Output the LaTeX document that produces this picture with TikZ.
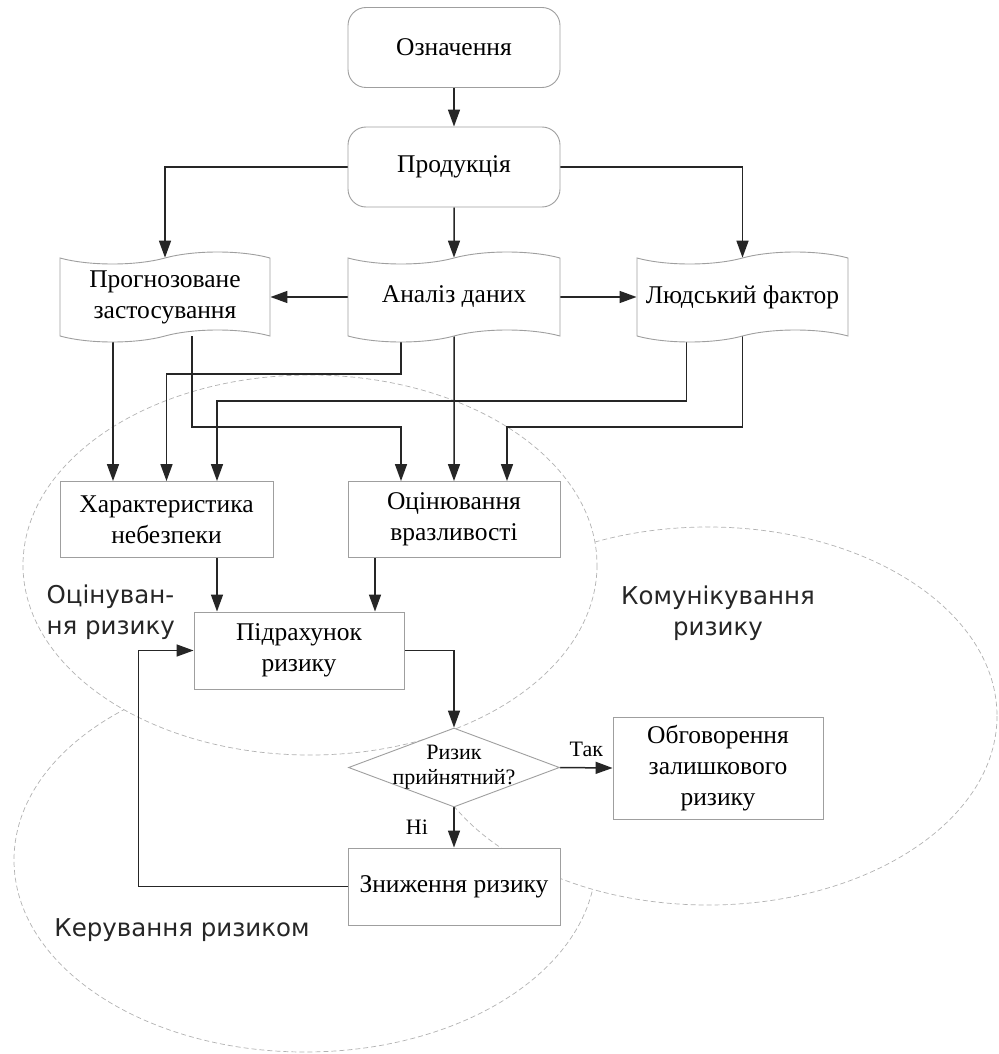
\documentclass[tikz,border=0pt]{standalone}
\usepackage{fontspec}
\setmainfont{Liberation Serif}
\newfontfamily\zonefont{DejaVu Sans}
\usetikzlibrary{arrows.meta,shapes.geometric,shapes.symbols,positioning}

\pgfdeclarelayer{background}
\pgfdeclarelayer{edges}
\pgfsetlayers{background,edges,main}

\tikzset{
  block/.style={draw=gray!75, fill=white, line width=0.9pt, inner sep=2pt,
    minimum width=212pt, minimum height=76pt, align=center,
    font=\fontsize{25.5}{31}\selectfont},
  roundblock/.style={block, rounded corners=18pt, minimum height=80pt},
  wave/.style={block, tape, tape bend top=in and out, tape bend bottom=in and out,
    tape bend height=12pt, minimum height=90pt},
  decision/.style={diamond, draw=gray!75, fill=white, line width=0.9pt,
    minimum width=211pt, minimum height=79pt, inner sep=0pt},
  zone/.style={draw=gray!60, dash pattern=on 5pt off 3pt, fill=white, line width=0.7pt},
  zonelabel/.style={font=\zonefont\fontsize{24.5}{31}\selectfont, text=black!85},
  flow/.style={->, draw=black!85, line width=1.5pt},
  answer/.style={font=\fontsize{22}{25}\selectfont},
}

\begin{document}
\begin{tikzpicture}[x=1pt, y=-1pt, >={Triangle[length=17pt,width=12pt]}]
    \useasboundingbox (0,0) rectangle (998,1054);

    % the three areas
    \begin{pgfonlayer}{background}
        \draw[zone] (305,860) ellipse [x radius=291, y radius=192];
        \draw[zone] (708,716) ellipse [x radius=289, y radius=189];
        \draw[zone] (310,565) ellipse [x radius=287, y radius=190];
    \end{pgfonlayer}

    \node[zonelabel, align=left, anchor=west] (assess) at (43,612) {Оцінуван-\\ня ризику};
    \node[zonelabel, align=center] (commun) at (718,613) {Комунікування\\ризику};
    \node[zonelabel] (manage) at (182,930) {Керування ризиком};

    % the blocks
    \node[roundblock] (def) at (454,47.5) {Означення};
    \node[roundblock] (prod) at (454,167) {Продукція};

    \node[wave, minimum width=210pt] (forecast) at (165,297) {Прогнозоване\\застосування};
    \node[wave] (data) at (454,297) {Аналіз даних};
    \node[wave, minimum width=211pt] (human) at (742.5,297) {Людський фактор};

    \node[block, minimum width=213pt] (hazard) at (166.5,519.5) {Характеристика\\небезпеки};
    \node[block] (vuln) at (454,519.5) {Оцінювання\\вразливості};
    \node[block, minimum width=210pt, minimum height=77pt] (calc) at (299,650.5) {Підрахунок\\ризику};

    \node[decision, label={[align=center, answer]center:{Ризик\\прийнятний?}}] (check) at (454,767.5) {};
    \node[block, minimum width=210pt, minimum height=102pt] (discuss) at (718,768) {Обговорення\\залишкового\\ризику};
    \node[block, minimum height=77pt] (reduce) at (454,886.5) {Зниження ризику};

    % entry points
    \coordinate (hzL) at ([xshift=-53.5pt]hazard.north);
    \coordinate (hzR) at ([xshift=50.5pt]hazard.north);
    \coordinate (vuL) at ([xshift=-53pt]vuln.north);
    \coordinate (vuR) at ([xshift=53pt]vuln.north);
    \coordinate (caL) at ([xshift=-82pt]calc.north);
    \coordinate (caR) at ([xshift=76pt]calc.north);

    % draw the arrows
    \begin{pgfonlayer}{edges}
        \draw[flow] (def) -- (prod);
        \draw[flow] (prod.west) -| (forecast.north);
        \draw[flow] (prod.east) -| (human.north);
        \draw[flow] (prod) -- (data);
        \draw[flow] (data.west) -- (forecast.east);
        \draw[flow] (data.east) -- (human.west);

        \draw[flow] (forecast.south -| hzL) -- (hzL);
        \draw[flow] ([xshift=27pt]forecast.south) |- ([yshift=54pt]vuL) -- (vuL);
        \draw[flow] ([xshift=-53pt]data.south) |- ([yshift=107pt]hazard.north) -- (hazard.north);
        \draw[flow] (data) -- (vuln);
        \draw[flow] ([xshift=-56pt]human.south) |- ([yshift=80pt]hzR) -- (hzR);
        \draw[flow] (human.south) |- ([yshift=54pt]vuR) -- (vuR);

        \draw[flow] (hazard.south -| caL) -- (caL);
        \draw[flow] (vuln.south -| caR) -- (caR);
        \draw[flow] (calc.east) -| (check.north);
        \draw[flow] (check.east) -- node[above=7pt, answer] {Так} (discuss.west);
        \draw[flow] (check.south) -- node[left=22pt, answer] {Ні} (reduce.north);
        \draw[flow] (reduce.west) -| ([xshift=-55pt]calc.west) -- (calc.west);
    \end{pgfonlayer}

\end{tikzpicture}
\end{document}
